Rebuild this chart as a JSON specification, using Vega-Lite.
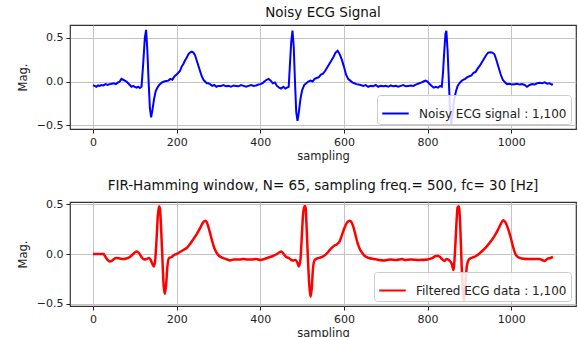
{
  "$schema": "https://vega.github.io/schema/vega-lite/v6.json",
  "padding": {"left": 16, "top": 4, "right": 2, "bottom": 2},
  "spacing": 73,
  "bounds": "flush",
  "datasets": {
    "noisy": [
      {"x":0,"y":-0.04},{"x":4,"y":-0.05},{"x":8,"y":-0.06},{"x":12,"y":-0.045},{"x":16,"y":-0.05},{"x":20,"y":-0.04},{"x":25,"y":-0.045},{"x":30,"y":-0.03},{"x":35,"y":-0.04},{"x":40,"y":-0.03},{"x":45,"y":-0.025},{"x":50,"y":-0.02},{"x":55,"y":-0.03},{"x":60,"y":-0.01},{"x":64,"y":0.0},{"x":68,"y":0.03},{"x":72,"y":0.02},{"x":76,"y":0.01},{"x":80,"y":0.0},{"x":84,"y":-0.02},{"x":88,"y":-0.04},{"x":92,"y":-0.06},{"x":96,"y":-0.05},{"x":100,"y":-0.06},{"x":104,"y":-0.07},{"x":108,"y":-0.06},{"x":112,"y":-0.075},{"x":116,"y":-0.06},
      {"x":120,"y":0.2},{"x":124,"y":0.5},{"x":127,"y":0.59},{"x":130,"y":0.35},{"x":133,"y":0.0},{"x":136,"y":-0.3},{"x":139,"y":-0.41},{"x":142,"y":-0.33},{"x":146,"y":-0.2},{"x":150,"y":-0.11},{"x":155,"y":-0.06},{"x":160,"y":-0.03},{"x":165,"y":-0.01},{"x":170,"y":0.0},{"x":175,"y":0.005},{"x":180,"y":0.01},{"x":185,"y":0.03},{"x":190,"y":0.02},{"x":195,"y":0.06},{"x":200,"y":0.08},{"x":204,"y":0.1},{"x":208,"y":0.12},{"x":212,"y":0.17},{"x":216,"y":0.2},{"x":220,"y":0.24},{"x":224,"y":0.27},{"x":228,"y":0.31},{"x":232,"y":0.33},{"x":236,"y":0.34},{"x":240,"y":0.33},{"x":244,"y":0.3},{"x":248,"y":0.24},{"x":252,"y":0.18},{"x":256,"y":0.12},{"x":260,"y":0.06},{"x":264,"y":0.02},{"x":268,"y":0.0},{"x":272,"y":-0.02},{"x":276,"y":-0.02},{"x":280,"y":-0.03},{"x":285,"y":-0.05},{"x":290,"y":-0.04},{"x":295,"y":-0.06},{"x":300,"y":-0.05},{"x":306,"y":-0.05},{"x":312,"y":-0.04},{"x":318,"y":-0.055},{"x":324,"y":-0.05},{"x":330,"y":-0.06},{"x":336,"y":-0.045},{"x":342,"y":-0.05},{"x":348,"y":-0.055},{"x":354,"y":-0.04},{"x":360,"y":-0.05},{"x":366,"y":-0.06},{"x":372,"y":-0.05},{"x":378,"y":-0.04},{"x":384,"y":-0.05},{"x":390,"y":-0.045},{"x":396,"y":-0.035},
      {"x":400,"y":-0.03},{"x":405,"y":-0.02},{"x":410,"y":0.0},{"x":415,"y":0.02},{"x":420,"y":0.03},{"x":425,"y":0.01},{"x":430,"y":-0.02},{"x":435,"y":-0.01},{"x":440,"y":-0.05},{"x":445,"y":-0.07},{"x":450,"y":-0.08},{"x":455,"y":-0.06},{"x":460,"y":-0.08},{"x":464,"y":-0.07},{"x":468,"y":-0.06},{"x":471,"y":0.2},{"x":474,"y":0.45},{"x":477,"y":0.58},{"x":480,"y":0.4},{"x":483,"y":0.0},{"x":486,"y":-0.35},{"x":489,"y":-0.45},{"x":492,"y":-0.36},{"x":496,"y":-0.2},{"x":500,"y":-0.1},{"x":505,"y":-0.04},{"x":510,"y":-0.02},{"x":515,"y":0.0},{"x":520,"y":0.01},{"x":525,"y":0.0},{"x":530,"y":0.03},{"x":535,"y":0.04},{"x":540,"y":0.05},{"x":545,"y":0.08},{"x":550,"y":0.09},{"x":555,"y":0.12},{"x":560,"y":0.16},{"x":565,"y":0.2},{"x":570,"y":0.24},{"x":575,"y":0.28},{"x":580,"y":0.33},{"x":585,"y":0.35},{"x":590,"y":0.31},{"x":595,"y":0.25},{"x":600,"y":0.17},{"x":605,"y":0.08},{"x":610,"y":0.03},{"x":615,"y":0.01},{"x":620,"y":-0.01},{"x":625,"y":-0.02},{"x":630,"y":-0.03},{"x":640,"y":-0.04},{"x":646,"y":-0.05},{"x":652,"y":-0.04},{"x":658,"y":-0.06},{"x":664,"y":-0.05},{"x":670,"y":-0.055},{"x":676,"y":-0.04},{"x":682,"y":-0.06},{"x":688,"y":-0.05},{"x":694,"y":-0.055},{"x":700,"y":-0.05},{"x":706,"y":-0.06},{"x":712,"y":-0.045},{"x":718,"y":-0.055},{"x":724,"y":-0.05},{"x":730,"y":-0.06},{"x":736,"y":-0.05},{"x":742,"y":-0.04},{"x":748,"y":-0.055},{"x":754,"y":-0.05},{"x":760,"y":-0.045},{"x":766,"y":-0.05},{"x":772,"y":-0.035},
      {"x":780,"y":-0.02},{"x":786,"y":-0.01},{"x":790,"y":0.0},{"x":795,"y":0.01},{"x":800,"y":0.0},{"x":805,"y":-0.03},{"x":810,"y":-0.05},{"x":815,"y":-0.07},{"x":820,"y":-0.06},{"x":825,"y":-0.07},{"x":830,"y":-0.05},{"x":834,"y":-0.06},{"x":837,"y":0.1},{"x":840,"y":0.35},{"x":843,"y":0.55},{"x":845,"y":0.58},{"x":848,"y":0.35},{"x":851,"y":0.0},{"x":854,"y":-0.35},{"x":857,"y":-0.49},{"x":860,"y":-0.35},{"x":864,"y":-0.2},{"x":868,"y":-0.11},{"x":872,"y":-0.05},{"x":876,"y":-0.02},{"x":880,"y":0.0},{"x":885,"y":0.02},{"x":890,"y":0.03},{"x":895,"y":0.05},{"x":900,"y":0.06},{"x":905,"y":0.07},{"x":910,"y":0.1},{"x":915,"y":0.11},{"x":920,"y":0.15},{"x":925,"y":0.18},{"x":930,"y":0.22},{"x":935,"y":0.26},{"x":940,"y":0.3},{"x":945,"y":0.33},{"x":950,"y":0.335},{"x":955,"y":0.33},{"x":960,"y":0.31},{"x":965,"y":0.24},{"x":970,"y":0.16},{"x":975,"y":0.08},{"x":980,"y":0.02},{"x":985,"y":-0.01},{"x":990,"y":-0.03},{"x":996,"y":-0.025},{"x":1002,"y":-0.035},{"x":1008,"y":-0.03},{"x":1014,"y":-0.025},{"x":1020,"y":-0.035},{"x":1026,"y":-0.03},{"x":1032,"y":-0.04},{"x":1038,"y":-0.06},{"x":1044,"y":-0.04},{"x":1050,"y":-0.03},{"x":1056,"y":-0.035},{"x":1062,"y":-0.02},{"x":1068,"y":-0.015},{"x":1074,"y":-0.02},{"x":1080,"y":-0.01},{"x":1086,"y":-0.025},{"x":1092,"y":-0.02},{"x":1097,"y":-0.035},{"x":1100,"y":-0.03}
    ],
    "filtered": [
      {"x":0,"y":0.0},{"x":10,"y":0.0},{"x":20,"y":0.0},{"x":25,"y":0.0},{"x":30,"y":-0.03},{"x":35,"y":-0.06},{"x":40,"y":-0.075},{"x":45,"y":-0.07},{"x":50,"y":-0.05},{"x":56,"y":-0.04},{"x":64,"y":-0.045},{"x":72,"y":-0.05},{"x":80,"y":-0.045},{"x":88,"y":-0.03},{"x":96,"y":0.0},{"x":104,"y":0.026},{"x":110,"y":0.01},{"x":116,"y":-0.03},{"x":122,"y":-0.055},{"x":128,"y":-0.05},{"x":134,"y":-0.04},{"x":138,"y":-0.06},{"x":142,"y":-0.1},{"x":146,"y":-0.125},{"x":149,"y":-0.05},{"x":152,"y":0.15},{"x":155,"y":0.38},{"x":158,"y":0.48},{"x":160,"y":0.46},{"x":163,"y":0.25},{"x":166,"y":-0.05},{"x":169,"y":-0.32},{"x":172,"y":-0.4},{"x":175,"y":-0.3},{"x":178,"y":-0.12},{"x":182,"y":-0.04},{"x":188,"y":-0.03},{"x":194,"y":-0.01},{"x":200,"y":0.0},{"x":208,"y":0.02},{"x":216,"y":0.04},{"x":224,"y":0.06},{"x":232,"y":0.1},{"x":240,"y":0.15},{"x":248,"y":0.2},{"x":256,"y":0.26},{"x":262,"y":0.31},{"x":268,"y":0.335},{"x":272,"y":0.32},{"x":276,"y":0.27},{"x":280,"y":0.21},{"x":285,"y":0.13},{"x":290,"y":0.06},{"x":296,"y":0.01},{"x":302,"y":-0.02},{"x":310,"y":-0.04},{"x":318,"y":-0.05},{"x":328,"y":-0.065},{"x":336,"y":-0.055},{"x":350,"y":-0.055},{"x":360,"y":-0.05},{"x":370,"y":-0.055},{"x":380,"y":-0.055},{"x":390,"y":-0.05},{"x":400,"y":-0.06},{"x":410,"y":-0.05},{"x":420,"y":-0.035},{"x":430,"y":-0.02},{"x":440,"y":0.0},{"x":450,"y":0.026},{"x":456,"y":0.0},{"x":462,"y":-0.03},{"x":468,"y":-0.04},{"x":474,"y":-0.06},{"x":480,"y":-0.065},{"x":484,"y":-0.06},{"x":488,"y":-0.08},{"x":492,"y":-0.125},{"x":496,"y":-0.06},{"x":499,"y":0.15},{"x":502,"y":0.38},{"x":505,"y":0.48},{"x":508,"y":0.48},{"x":511,"y":0.25},{"x":514,"y":-0.05},{"x":517,"y":-0.3},{"x":520,"y":-0.43},{"x":523,"y":-0.35},{"x":526,"y":-0.15},{"x":530,"y":-0.06},{"x":536,"y":-0.045},{"x":544,"y":-0.035},{"x":552,"y":-0.02},{"x":560,"y":0.01},{"x":568,"y":0.05},{"x":576,"y":0.08},{"x":584,"y":0.1},{"x":590,"y":0.13},{"x":596,"y":0.2},{"x":602,"y":0.27},{"x":608,"y":0.32},{"x":614,"y":0.335},{"x":618,"y":0.32},{"x":622,"y":0.28},{"x":626,"y":0.22},{"x":632,"y":0.12},{"x":638,"y":0.05},{"x":644,"y":0.01},{"x":650,"y":-0.02},{"x":660,"y":-0.04},{"x":672,"y":-0.05},{"x":684,"y":-0.06},{"x":696,"y":-0.065},{"x":710,"y":-0.055},{"x":725,"y":-0.06},{"x":740,"y":-0.05},{"x":745,"y":-0.06},{"x":760,"y":-0.055},{"x":780,"y":-0.06},{"x":800,"y":-0.055},{"x":812,"y":-0.04},{"x":820,"y":-0.02},{"x":826,"y":-0.02},{"x":832,"y":-0.04},{"x":840,"y":-0.07},{"x":846,"y":-0.05},{"x":852,"y":-0.065},{"x":858,"y":-0.1},{"x":862,"y":-0.16},{"x":866,"y":0.05},{"x":869,"y":0.3},{"x":872,"y":0.47},{"x":875,"y":0.48},{"x":878,"y":0.3},{"x":881,"y":-0.05},{"x":884,"y":-0.35},{"x":887,"y":-0.47},{"x":890,"y":-0.35},{"x":894,"y":-0.12},{"x":900,"y":-0.05},{"x":908,"y":-0.035},{"x":916,"y":-0.02},{"x":928,"y":0.02},{"x":940,"y":0.07},{"x":950,"y":0.12},{"x":960,"y":0.18},{"x":968,"y":0.24},{"x":975,"y":0.3},{"x":981,"y":0.34},{"x":986,"y":0.32},{"x":992,"y":0.26},{"x":998,"y":0.18},{"x":1004,"y":0.08},{"x":1010,"y":0.0},{"x":1016,"y":-0.03},{"x":1025,"y":-0.045},{"x":1040,"y":-0.05},{"x":1055,"y":-0.05},{"x":1068,"y":-0.05},{"x":1074,"y":-0.06},{"x":1080,"y":-0.07},{"x":1086,"y":-0.05},{"x":1094,"y":-0.04},{"x":1100,"y":-0.03}
    ]
  },
  "vconcat": [
    {
      "width": 506,
      "height": 104,
      "title": {"text": "Noisy ECG Signal"},
      "data": {"name": "noisy"},
      "transform": [{"calculate": "'Noisy ECG signal : 1,100'", "as": "s"}],
      "mark": {"type": "line", "strokeWidth": 2, "interpolate": "linear"},
      "encoding": {
        "x": {"field": "x", "type": "quantitative", "title": "sampling",
              "scale": {"domain": [-55, 1155], "nice": false, "zero": false},
              "axis": {"values": [0, 200, 400, 600, 800, 1000], "format": "d"}},
        "y": {"field": "y", "type": "quantitative", "title": "Mag.",
              "scale": {"domain": [-0.542, 0.645], "nice": false, "zero": false},
              "axis": {"values": [-0.5, 0, 0.5], "format": ".1f"}},
        "color": {"field": "s", "type": "nominal",
                  "scale": {"range": ["#0000ff"]},
                  "legend": {"orient": "bottom-right", "title": null, "offset": 5}}
      }
    },
    {
      "width": 506,
      "height": 104,
      "title": {"text": "FIR-Hamming window, N= 65, sampling freq.= 500, fc= 30 [Hz]"},
      "data": {"name": "filtered"},
      "transform": [{"calculate": "'Filtered ECG data : 1,100'", "as": "s"}],
      "mark": {"type": "line", "strokeWidth": 2.5, "interpolate": "monotone"},
      "encoding": {
        "x": {"field": "x", "type": "quantitative", "title": "sampling",
              "scale": {"domain": [-55, 1155], "nice": false, "zero": false},
              "axis": {"values": [0, 200, 400, 600, 800, 1000], "format": "d"}},
        "y": {"field": "y", "type": "quantitative", "title": "Mag.",
              "scale": {"domain": [-0.523, 0.523], "nice": false, "zero": false},
              "axis": {"values": [-0.5, 0, 0.5], "format": ".1f"}},
        "color": {"field": "s", "type": "nominal",
                  "scale": {"range": ["#ff0000"]},
                  "legend": {"orient": "bottom-right", "title": null, "offset": 5}}
      }
    }
  ],
  "resolve": {"scale": {"color": "independent", "x": "independent", "y": "independent"}, "legend": {"color": "independent"}},
  "config": {
    "font": "DejaVu Sans",
    "background": "white",
    "view": {"stroke": "#333333", "strokeWidth": 1.2},
    "title": {"fontSize": 13.5, "fontWeight": "normal", "color": "#111", "offset": 6, "anchor": "middle"},
    "axis": {
      "domain": false,
      "grid": true,
      "gridColor": "#c4c4c4",
      "gridWidth": 1,
      "ticks": true,
      "tickColor": "#222",
      "tickSize": 4,
      "labelFontSize": 11,
      "labelColor": "#222",
      "labelPadding": 3,
      "titleFontSize": 11.5,
      "titleFontWeight": "normal",
      "titleColor": "#222"
    },
    "axisX": {"titlePadding": 3},
    "axisY": {"titlePadding": 8},
    "legend": {
      "fillColor": "rgba(255,255,255,0.85)",
      "strokeColor": "#cccccc",
      "cornerRadius": 3,
      "padding": 4,
      "labelFontSize": 12,
      "labelColor": "#222",
      "labelOffset": 9,
      "symbolType": "stroke",
      "symbolSize": 700,
      "symbolStrokeWidth": 2
    }
  }
}
